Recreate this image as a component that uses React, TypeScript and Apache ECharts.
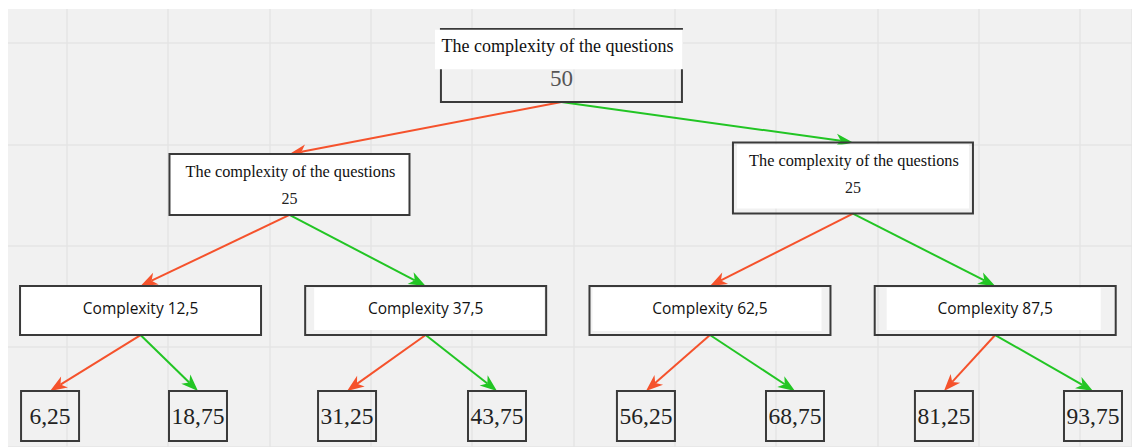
import React, { useEffect, useRef } from "react";
import * as echarts from "echarts";

// ---------------- data ----------------
const nodeTitles = [
  "The complexity of the questions",
  "The complexity of the questions",
  "The complexity of the questions",
  "Complexity",
  "Complexity",
  "Complexity",
  "Complexity",
  "", "", "", "", "", "", "", "",
];
const nodeValues = [50, 25, 25, 12.5, 37.5, 62.5, 87.5, 6.25, 18.75, 31.25, 43.75, 56.25, 68.75, 81.25, 93.75];
const nodeLevels = [0, 1, 1, 2, 2, 2, 2, 3, 3, 3, 3, 3, 3, 3, 3];
const edgeSources = [0, 0, 1, 1, 2, 2, 3, 3, 4, 4, 5, 5, 6, 6];
const edgeTargets = [1, 2, 3, 4, 5, 6, 7, 8, 9, 10, 11, 12, 13, 14];
const edgeBranches = ["left", "right", "left", "right", "left", "right", "left", "right", "left", "right", "left", "right", "left", "right"];

// ---------------- layout (in background-grid cell units) ----------------
const nodeColumns = [4.883, 2.199, 7.76, 0.729, 3.543, 6.349, 9.164, -0.164, 1.296, 2.767, 4.247, 5.717, 7.188, 8.658, 10.129];
const nodeTops = [-0.138, 1.095, 0.982, 2.398, 2.398, 2.398, 2.398, 3.434, 3.434, 3.434, 3.434, 3.434, 3.434, 3.434, 3.434];
const nodeBottoms = [0.582, 1.697, 1.683, 2.882, 2.882, 2.882, 2.882, 3.928, 3.928, 3.928, 3.928, 3.928, 3.928, 3.928, 3.928];
const levelWidths = [241, 240, 241, 58];
// white fill inset [left, top, right, bottom] in px, null = no fill
const nodeInsets: (number[] | null)[] = [
  null,
  [0, 0, 0, 0],
  [4, 2, 4, 5],
  [0, 0, 0, 0],
  [9, 2, 2, 5],
  [3, 2, 9, 4],
  [12, 2, 15, 5],
  null, null, null, null, null, null, null, null,
];

const RED = "#f5522c";
const GREEN = "#22c524";
const BORDER = "#3a3a3a";
const SERIF = '"Liberation Serif", "Times New Roman", serif';
const SANS = '"Open Sans", "Noto Sans", sans-serif';

const fmt = (v: number) => String(v).replace(".", ",");

export default function App() {
  const ref = useRef<HTMLDivElement>(null);

  useEffect(() => {
    if (!ref.current) return;
    const chart = echarts.init(ref.current, undefined, { renderer: "svg" });

    const nodeData = nodeValues.map((_, i) => [nodeColumns[i], nodeTops[i], nodeBottoms[i]]);
    const edgeData = edgeSources.map((s, k) => {
      const t = edgeTargets[k];
      return [nodeColumns[s], nodeBottoms[s], nodeColumns[t], nodeTops[t], edgeBranches[k] === "right" ? 1 : 0];
    });

    const option: any = {
      animation: false,
      backgroundColor: "#ffffff",
      grid: {
        left: 0,
        top: 0,
        right: 0,
        bottom: 0,
        show: true,
        backgroundColor: "#f1f1f1",
        borderWidth: 0,
        containLabel: false,
      },
      xAxis: {
        type: "value",
        min: -0.658,
        max: 10.514,
        minInterval: 1,
        maxInterval: 1,
        splitNumber: 11,
        axisLine: { show: false },
        axisTick: { show: false },
        axisLabel: { show: false },
        splitLine: { show: true, lineStyle: { color: "#e4e4e4", width: 1.5 } },
      },
      yAxis: {
        type: "value",
        inverse: true,
        min: -0.4244,
        max: 3.987,
        minInterval: 1,
        maxInterval: 1,
        splitNumber: 4,
        axisLine: { show: false },
        axisTick: { show: false },
        axisLabel: { show: false },
        splitLine: { show: true, lineStyle: { color: "#e4e4e4", width: 1.5 } },
      },
      graphic: [
        { type: "rect", z: 100, shape: { x: 0, y: 0, width: 8, height: 447 }, style: { fill: "#ffffff" } },
        { type: "rect", z: 100, shape: { x: 0, y: 0, width: 1132, height: 9 }, style: { fill: "#ffffff" } },
      ],
      series: [
        {
          type: "custom",
          name: "edges",
          coordinateSystem: "cartesian2d",
          z: 2,
          silent: true,
          data: edgeData,
          encode: { x: [0, 2], y: [1, 3] },
          renderItem: (params: any, api: any) => {
            const p1 = api.coord([api.value(0), api.value(1)]);
            const p2 = api.coord([api.value(2), api.value(3)]);
            const color = api.value(4) ? GREEN : RED;
            const dx = p2[0] - p1[0];
            const dy = p2[1] - p1[1];
            const len = Math.sqrt(dx * dx + dy * dy);
            const ux = dx / len;
            const uy = dy / len;
            const nx = -uy;
            const ny = ux;
            const L = 17;
            const W = 6.5;
            const bx = p2[0] - ux * L;
            const by = p2[1] - uy * L;
            const mx = p2[0] - ux * L * 0.72;
            const my = p2[1] - uy * L * 0.72;
            return {
              type: "group",
              children: [
                {
                  type: "line",
                  shape: { x1: p1[0], y1: p1[1], x2: mx, y2: my },
                  style: { stroke: color, lineWidth: 2 },
                },
                {
                  type: "polygon",
                  shape: {
                    points: [
                      [p2[0], p2[1]],
                      [bx + nx * W, by + ny * W],
                      [mx, my],
                      [bx - nx * W, by - ny * W],
                    ],
                  },
                  style: { fill: color },
                },
              ],
            };
          },
        },
        {
          type: "custom",
          name: "nodes",
          coordinateSystem: "cartesian2d",
          z: 3,
          silent: true,
          data: nodeData,
          encode: { x: 0, y: [1, 2] },
          renderItem: (params: any, api: any) => {
            const i = params.dataIndex;
            const lvl = nodeLevels[i];
            const tp = api.coord([api.value(0), api.value(1)]);
            const bp = api.coord([api.value(0), api.value(2)]);
            const cx = tp[0];
            const y0 = tp[1];
            const y1 = bp[1];
            const w = levelWidths[lvl];
            const x0 = cx - w / 2;
            const h = y1 - y0;
            const children: any[] = [];
            const inset = nodeInsets[i];
            if (inset) {
              children.push({
                type: "rect",
                shape: {
                  x: x0 + inset[0],
                  y: y0 + inset[1],
                  width: w - inset[0] - inset[2],
                  height: h - inset[1] - inset[3],
                },
                style: { fill: "#ffffff" },
              });
            }
            children.push({
              type: "rect",
              shape: { x: x0, y: y0, width: w, height: h },
              style: { fill: "none", stroke: BORDER, lineWidth: 2 },
            });
            const title = nodeTitles[i];
            const value = fmt(nodeValues[i]);
            const txt = (x: number, y: number, text: string, size: number, family: string, fill: string) => ({
              type: "text",
              x,
              y,
              style: {
                text,
                fontSize: size,
                fontFamily: family,
                fill,
                align: "center",
                verticalAlign: "middle",
              },
            });
            if (lvl === 0) {
              children.push({
                type: "rect",
                shape: { x: cx - 126.5, y: y0 + 0.7, width: 248, height: 39.5 },
                style: { fill: "#ffffff" },
              });
              children.push(txt(cx - 4, y0 + 17, title, 18, SERIF, "#111111"));
              children.push(txt(cx, y0 + 49, value, 23, SERIF, "#555555"));
            } else if (lvl === 1) {
              children.push(txt(cx + 1, y0 + 18, title, 16.3, SERIF, "#111111"));
              children.push(txt(cx, y0 + 44.5, value, 16, SERIF, "#222222"));
            } else if (lvl === 2) {
              children.push(txt(cx, y0 + 22, title + " " + value, 15.5, SANS, "#111111"));
            } else {
              children.push(txt(cx, y0 + 25, value, 23.5, SERIF, "#222222"));
            }
            return { type: "group", children };
          },
        },
      ],
    };

    chart.setOption(option);
    return () => {
      chart.dispose();
    };
  }, []);

  return (
    <div
      ref={ref}
      style={{ position: "fixed", left: 0, top: 0, width: 1132, height: 447 }}
    />
  );
}
